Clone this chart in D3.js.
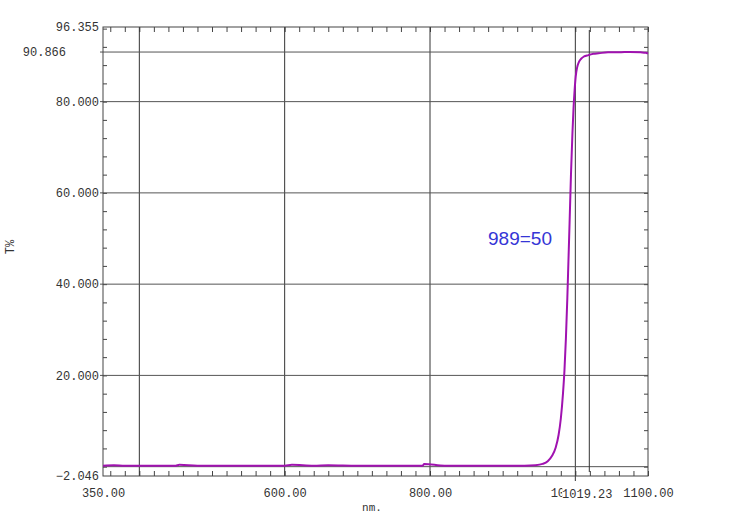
<!DOCTYPE html>
<html>
<head>
<meta charset="utf-8">
<script src="https://cdn.jsdelivr.net/npm/d3@7"></script>
<style>
  body { margin: 0; background: #fff; }
  text { font-family: "Liberation Mono", monospace; fill: #333; }
</style>
</head>
<body>
<div id="chart"></div>
<script>
// wavelength (nm) and transmittance (T%)
const wavelengths = [350, 365, 380, 395, 420, 450, 455, 480, 520, 560, 600, 610, 640, 660, 700, 740, 790, 792, 820, 860, 900, 930, 945,
  955, 962, 968, 973, 977, 980, 983, 985, 987, 989, 990.5, 992, 994, 996, 997.5, 999, 1000.5, 1002.5, 1005, 1008, 1012, 1018,
  1025, 1032, 1045, 1060, 1075, 1090, 1097, 1100];
const transmittance = [0.2, 0.3, 0.2, 0.2, 0.2, 0.2, 0.4, 0.2, 0.2, 0.2, 0.2, 0.4, 0.2, 0.3, 0.2, 0.2, 0.2, 0.6, 0.2, 0.2, 0.2, 0.2, 0.3,
  0.6, 1.2, 2.4, 4.2, 7.0, 10.5, 16, 21, 28, 37, 45, 53, 64, 73, 78.5, 82.5, 85.5, 87.5, 88.7, 89.4, 89.9, 90.2,
  90.5, 90.6, 90.8, 90.8, 90.9, 90.8, 90.7, 90.5];

const xLabelTicks = [350, 600, 800, 1000, 1100];
const xGridLines = [400, 600, 800, 1000];
const yLabelTicks = [-2.046, 20, 40, 60, 80, 96.355];
const yGridLines = [0, 20, 40, 60, 80, 90.866];
const markerWave = 1019.23;
const markerT = 90.866;
const halfLabel = "989=50";

var svgwidth = 750;
var svgheight = 520;

var svg = d3.select('#chart')
    .append('svg')
    .attr('width', svgwidth)
    .attr('height', svgheight);

var xscale = d3.scaleLinear().domain([350, 1100]).range([103, 648]);
var yscale = d3.scaleLinear().domain([-2.046, 96.355]).range([476, 27]);

var x0 = xscale.range()[0], x1 = xscale.range()[1];
var y0 = yscale.range()[0], y1 = yscale.range()[1];

// minor ticks, every 20 nm and every 4 %
var xMinor = d3.range(360, 1101, 20);
var yMinor = d3.range(0, 97, 4);

svg.append('g')
    .attr('transform', `translate(0, ${y0})`)
    .call(d3.axisBottom(xscale).tickValues(xMinor).tickSize(-5).tickFormat(''))
    .call(g => g.select('.domain').remove())
    .selectAll('line').attr('stroke', '#444');
svg.append('g')
    .attr('transform', `translate(0, ${y1})`)
    .call(d3.axisTop(xscale).tickValues(xMinor).tickSize(-5).tickFormat(''))
    .call(g => g.select('.domain').remove())
    .selectAll('line').attr('stroke', '#444');
svg.append('g')
    .attr('transform', `translate(${x0}, 0)`)
    .call(d3.axisLeft(yscale).tickValues(yMinor).tickSize(-4).tickFormat(''))
    .call(g => g.select('.domain').remove())
    .selectAll('line').attr('stroke', '#444');
svg.append('g')
    .attr('transform', `translate(${x1}, 0)`)
    .call(d3.axisRight(yscale).tickValues(yMinor).tickSize(-4).tickFormat(''))
    .call(g => g.select('.domain').remove())
    .selectAll('line').attr('stroke', '#444');

// grid lines
svg.append('g')
    .selectAll('line')
    .data(xGridLines)
    .join('line')
    .attr('x1', d => xscale(d)).attr('x2', d => xscale(d))
    .attr('y1', y1).attr('y2', d => d === 1000 ? y0 + 5 : y0)
    .attr('stroke', '#333').attr('stroke-width', 1);
svg.append('g')
    .selectAll('line')
    .data(yGridLines)
    .join('line')
    .attr('x1', d => d === 0 ? x0 : x0 - 3).attr('x2', x1)
    .attr('y1', d => yscale(d)).attr('y2', d => yscale(d))
    .attr('stroke', '#555').attr('stroke-width', 1);

// marker line at 1019.23
svg.append('line')
    .attr('x1', xscale(markerWave)).attr('x2', xscale(markerWave))
    .attr('y1', y1 + 3).attr('y2', y0 - 4)
    .attr('stroke', '#333');

// frame
svg.append('rect')
    .attr('x', x0).attr('y', y1)
    .attr('width', x1 - x0).attr('height', y0 - y1)
    .attr('fill', 'none').attr('stroke', '#444');

// curve
var pts = wavelengths.map((w, i) => [w, transmittance[i]]);
var line = d3.line()
    .x(d => xscale(d[0]))
    .y(d => yscale(d[1]))
    .curve(d3.curveMonotoneX);
svg.append('path')
    .datum(pts)
    .attr('d', line)
    .attr('fill', 'none')
    .attr('stroke', '#a012b0')
    .attr('stroke-width', 2);

// x labels
svg.append('g')
    .attr('transform', `translate(0, ${y0})`)
    .call(d3.axisBottom(xscale).tickValues(xLabelTicks).tickSize(0).tickPadding(12).tickFormat(d3.format('.2f')))
    .call(g => g.select('.domain').remove())
    .selectAll('text').style('font-size', '12px').attr('fill', '#333');

// marker label sits on a white patch over most of 1000.00, as on the scan
var mlab = svg.append('g').attr('transform', `translate(${xscale(markerWave) - 2}, ${y0 + 18})`);
mlab.append('rect').attr('x', -25).attr('y', -9).attr('width', 52).attr('height', 16).attr('fill', '#fff');
mlab.append('text').attr('text-anchor', 'middle').attr('dy', '0.32em')
    .style('font-size', '12px').text(d3.format('.2f')(markerWave));

// y labels
svg.append('g')
    .attr('transform', `translate(${x0}, 0)`)
    .call(d3.axisLeft(yscale).tickValues(yLabelTicks).tickSize(0).tickPadding(4).tickFormat(d3.format('.3f')))
    .call(g => g.select('.domain').remove())
    .selectAll('text').style('font-size', '12px').attr('fill', '#333');
svg.append('text')
    .attr('x', 66).attr('y', yscale(markerT))
    .attr('dy', '0.32em').attr('text-anchor', 'end')
    .style('font-size', '12px')
    .text(d3.format('.3f')(markerT));

// half-height annotation
svg.append('text')
    .attr('x', 520).attr('y', 238)
    .attr('dy', '0.35em').attr('text-anchor', 'middle')
    .style('font-family', '"Liberation Sans", Arial, sans-serif')
    .style('font-size', '19px')
    .style('fill', '#3535d6')
    .text(halfLabel);

// Title on the X-axis
svg.append('text')
    .attr('x', 372).attr('y', 511)
    .attr('text-anchor', 'middle')
    .style('font-size', '11px')
    .text('nm.');

// Title on the Y-axis
svg.append('text')
    .attr('transform', 'rotate(-90)')
    .attr('x', -247).attr('y', 14)
    .attr('text-anchor', 'middle')
    .style('font-size', '12px')
    .text('T%');
</script>
</body>
</html>
